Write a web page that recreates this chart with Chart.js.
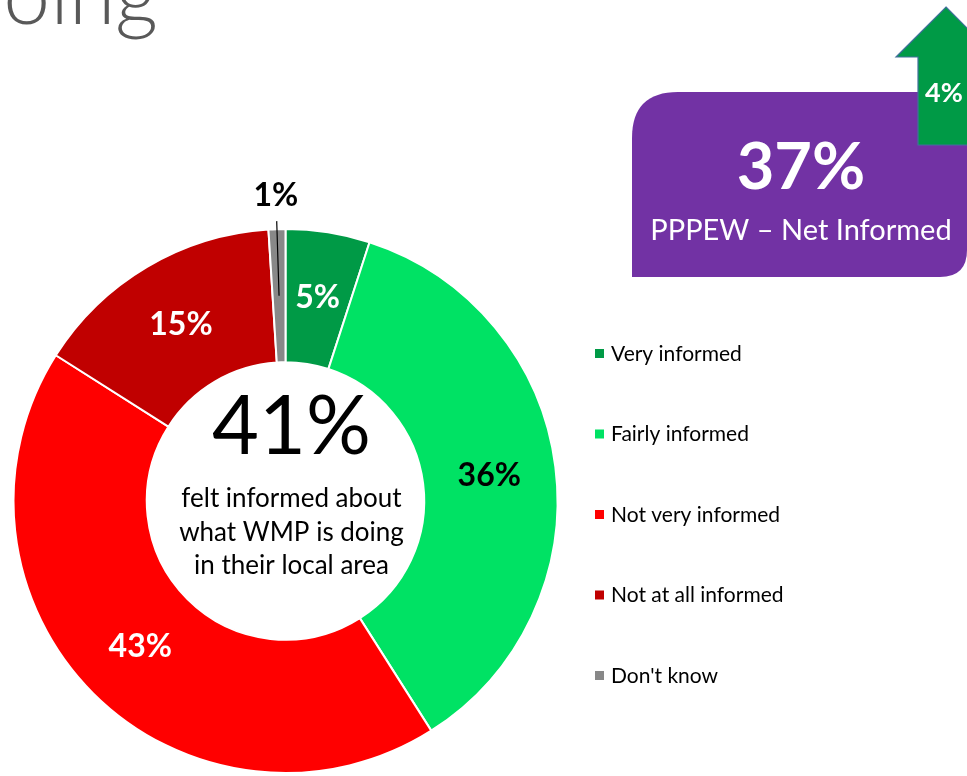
<!DOCTYPE html>
<html>
<head>
<meta charset="utf-8">
<script src="https://cdn.jsdelivr.net/npm/chart.js@4"></script>
<style>
  html, body { margin: 0; padding: 0; background: #fff; overflow: hidden; }
  #wrap { width: 967px; height: 776px; position: relative; }
</style>
</head>
<body>
<div id="wrap"><canvas id="informed-chart" width="967" height="776"></canvas></div>
<script>
// -------------- Data --------------
const categories = ['Very informed', 'Fairly informed', 'Not very informed', 'Not at all informed', "Don't know"];
const shares = [5, 36, 43, 15, 1];
const netInformed = 37;      // PPPEW figure in the purple box
const netChange = 4;         // change shown on the arrow
const centreLines = ['felt informed about', 'what WMP is doing', 'in their local area'];

// colours for each slice
const sliceColours = ['#009A46', '#00E264', '#FF0000', '#C00000', '#888888'];
const labelColours = ['#ffffff', '#000000', '#ffffff', '#ffffff', '#000000'];
const FONT = 'Lato, "Open Sans", sans-serif';

// -------------- Extras drawn on top of the doughnut --------------
const decorations = {
    id: 'decorations',
    afterDraw(chart) {
        const ctx = chart.ctx;
        const meta = chart.getDatasetMeta(0);
        const arc0 = meta.data[0];
        const cx = arc0.x, cy = arc0.y;

        ctx.save();

        // slide title, cut off at the top left
        ctx.fillStyle = '#595959';
        ctx.font = '300 84px ' + FONT;
        ctx.textAlign = 'right';
        ctx.textBaseline = 'alphabetic';
        ctx.fillText('oing', 158, 24);

        // slice labels
        meta.data.forEach((arc, i) => {
            const pct = shares[i] + '%';
            ctx.font = 'bold 32px ' + FONT;
            ctx.textAlign = 'center';
            ctx.textBaseline = 'middle';
            if (shares[i] < 3) {
                const mid = (arc.startAngle + arc.endAngle) / 2;
                const rIn = (arc.innerRadius + arc.outerRadius) / 2;
                const rOut = arc.outerRadius + 8;
                ctx.strokeStyle = '#000';
                ctx.lineWidth = 1.2;
                ctx.beginPath();
                ctx.moveTo(cx + Math.cos(mid) * rIn, cy + Math.sin(mid) * rIn);
                ctx.lineTo(cx + Math.cos(mid) * rOut, cy + Math.sin(mid) * rOut);
                ctx.stroke();
                const rl = arc.outerRadius + 33;
                ctx.fillStyle = '#000';
                ctx.fillText(pct, cx + Math.cos(mid) * rl, cy + Math.sin(mid) * rl);
            } else {
                const p = arc.tooltipPosition();
                ctx.fillStyle = labelColours[i];
                ctx.fillText(pct, p.x, p.y);
            }
        });

        // centre text
        ctx.fillStyle = '#000';
        ctx.textAlign = 'center';
        ctx.textBaseline = 'middle';
        ctx.font = '81px ' + FONT;
        ctx.fillText((shares[0] + shares[1]) + '%', cx + 6, cy - 73);
        ctx.font = '26px ' + FONT;
        centreLines.forEach((line, k) => {
            ctx.fillText(line, cx + 6, cy - 2 + k * 33.5);
        });

        // legend
        ctx.textAlign = 'left';
        ctx.font = '21px ' + FONT;
        categories.forEach((name, i) => {
            const y = 354 + i * 80.5;
            ctx.fillStyle = sliceColours[i];
            ctx.fillRect(595, y - 5, 9, 9);
            ctx.fillStyle = '#000';
            ctx.fillText(name, 611, y);
        });

        // purple box
        ctx.fillStyle = '#7232A4';
        ctx.beginPath();
        ctx.moveTo(632, 277);
        ctx.lineTo(632, 138);
        ctx.quadraticCurveTo(632, 92, 678, 92);
        ctx.lineTo(967, 92);
        ctx.lineTo(967, 250);
        ctx.quadraticCurveTo(967, 277, 940, 277);
        ctx.closePath();
        ctx.fill();
        ctx.fillStyle = '#fff';
        ctx.textAlign = 'center';
        ctx.font = 'bold 65px ' + FONT;
        ctx.fillText(netInformed + '%', 801, 168);
        ctx.font = '29px ' + FONT;
        ctx.fillText('PPPEW \u2013 Net Informed', 801, 231);

        // green arrow
        ctx.fillStyle = '#009A46';
        ctx.strokeStyle = '#41719C';
        ctx.lineWidth = 1.2;
        ctx.beginPath();
        ctx.moveTo(946, 7);
        ctx.lineTo(996, 57);
        ctx.lineTo(974, 57);
        ctx.lineTo(974, 145);
        ctx.lineTo(918, 145);
        ctx.lineTo(918, 57);
        ctx.lineTo(896, 57);
        ctx.closePath();
        ctx.fill();
        ctx.stroke();
        ctx.fillStyle = '#fff';
        ctx.font = 'bold 27px ' + FONT;
        ctx.fillText(netChange + '%', 944, 93);

        ctx.restore();
    }
};

// -------------- Doughnut chart --------------
const informedCanvas = document.getElementById('informed-chart');
const informedChart = new Chart(informedCanvas, {
    type: 'doughnut',
    data: {
        labels: categories,
        datasets: [{
            data: shares,
            backgroundColor: sliceColours,
            borderColor: '#ffffff',
            borderWidth: 2
        }]
    },
    options: {
        responsive: false,
        animation: false,
        cutout: '51%',
        layout: {
            padding: { left: 12, top: 228, right: 408, bottom: 2 }
        },
        plugins: {
            legend: { display: false },
            tooltip: { enabled: false }
        }
    },
    plugins: [decorations]
});
</script>
</body>
</html>
